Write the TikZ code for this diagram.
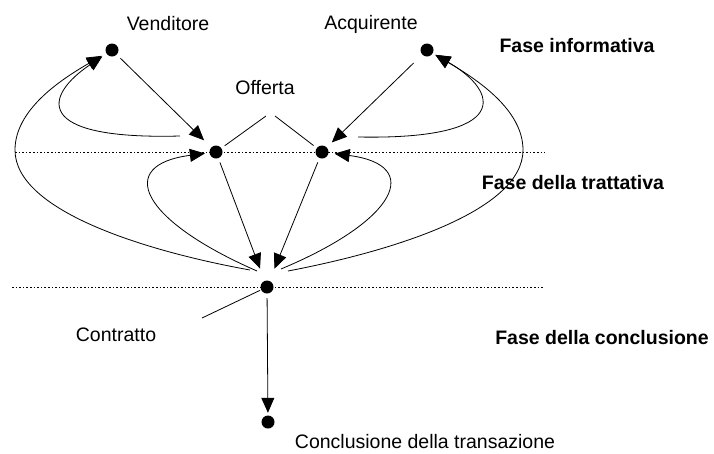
\documentclass[tikz,border=0pt]{standalone}
\usepackage{fontspec}
\setmainfont{Liberation Sans}
\usetikzlibrary{arrows.meta}
\begin{document}
\begin{tikzpicture}[x=1pt,y=-1pt,
  dot/.style={circle,fill=black,minimum size=13pt,inner sep=0pt},
  lbl/.style={font=\fontsize{19.5}{22}\selectfont,inner sep=0pt},
  phase/.style={font=\fontsize{19.5}{22}\selectfont\bfseries,inner sep=0pt},
  ln/.style={line width=0.8pt},
  arr/.style={ln,-{Triangle[length=15pt,width=13pt]}},
  sep/.style={line width=0.8pt,dash pattern=on 1.6pt off 2pt}]
\useasboundingbox (0,0) rectangle (714,453);
% phase separators
\coordinate (d1a) at (15,152);
\coordinate (d1b) at (545,152);
\coordinate (d2a) at (12,287);
\coordinate (d2b) at (543,287);
\draw[sep] (d1a) -- (d1b);
\draw[sep] (d2a) -- (d2b);
% dots
\node[dot] (V) at (112,50) {};
\node[dot] (A) at (427,50) {};
\node[dot] (OL) at (216,152) {};
\node[dot] (OR) at (322,152) {};
\node[dot] (C) at (267,287) {};
\node[dot] (K) at (268,422) {};
% labels
\node[lbl] (tV) at (168,24) {Venditore};
\node[lbl] (tA) at (371,24) {Acquirente};
\node[lbl] (tO) at (265,88) {Offerta};
\node[lbl] (tC) at (116,335) {Contratto};
\node[lbl] (tK) at (425,442) {Conclusione della transazione};
\node[phase] (p1) at (577,46) {Fase informativa};
\node[phase] (p2) at (573,183) {Fase della trattativa};
\node[phase] (p3) at (602,338) {Fase della conclusione};
% leader lines
\coordinate (o1) at (266,116);
\coordinate (o2) at (275,116);
\coordinate (c1) at (202,318);
\draw[ln,shorten <=4pt] (OL) -- (o1);
\draw[ln,shorten <=4pt] (OR) -- (o2);
\draw[ln,shorten <=1pt] (C) -- (c1);
% curve start points near Contratto
\coordinate (s1) at (250,270);
\coordinate (s2) at (257,271);
\coordinate (s3) at (180,136);
\coordinate (s4) at (288,271);
\coordinate (s5) at (281,269);
\coordinate (s6) at (358,137);
% straight arrows
\draw[arr,shorten <=5pt,shorten >=10pt] (V) -- (OL);
\draw[arr,shorten <=12pt,shorten >=7pt] (A) -- (OR);
\draw[arr,shorten <=4.5pt,shorten >=13pt] (OL) -- (C);
\draw[arr,shorten <=4.5pt,shorten >=13pt] (OR) -- (C);
\draw[arr,shorten <=4.5pt,shorten >=2.5pt] (C) -- (K);
% left curves
\draw[arr,shorten >=5pt] (s3) .. controls (30,140) and (45,95) .. (V);
\draw[arr,shorten >=5pt] (s1) .. controls (150,252) and (15,212) .. (15,150)
  .. controls (15,110) and (60,80) .. (V);
\draw[arr,shorten >=4.5pt] (s2) .. controls (140,220) and (115,165) .. (OL);
% right curves
\draw[arr,shorten >=3pt] (s6) .. controls (512,140) and (500,92) .. (A);
\draw[arr,shorten >=3pt] (s4) .. controls (388,252) and (523,212) .. (523,150)
  .. controls (523,110) and (478,80) .. (A);
\draw[arr,shorten >=6pt] (s5) .. controls (398,220) and (423,165) .. (OR);
\end{tikzpicture}
\end{document}
